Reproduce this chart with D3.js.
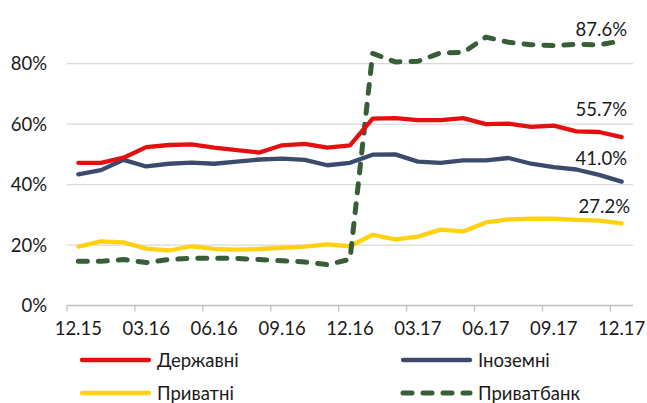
<!DOCTYPE html>
<html><head><meta charset="utf-8">
<script src="https://cdn.jsdelivr.net/npm/d3@7"></script>
<style>
body{margin:0;background:#fff;}
svg{display:block;font-family:Lato, "Open Sans", sans-serif;}
</style>
</head><body>
<svg id="c" width="647" height="403"></svg>
<script>
const months = ["12.15","01.16","02.16","03.16","04.16","05.16","06.16","07.16","08.16","09.16","10.16","11.16","12.16",
                "01.17","02.17","03.17","04.17","05.17","06.17","07.17","08.17","09.17","10.17","11.17","12.17"];
const tickLabels = ["12.15","03.16","06.16","09.16","12.16","03.17","06.17","09.17","12.17"];
const yTicks = [0, 20, 40, 60, 80];

const derzhavni  = [47.2,47.2,48.9,52.4,53.1,53.3,52.2,51.4,50.6,53.0,53.5,52.2,53.0,61.8,62.0,61.3,61.3,62.0,60.0,60.2,59.1,59.5,57.6,57.4,55.7];
const inozemni   = [43.4,44.8,48.2,46.0,46.9,47.3,46.9,47.6,48.3,48.6,48.2,46.4,47.2,49.9,50.0,47.6,47.2,48.0,48.0,48.8,46.9,45.8,45.0,43.2,41.0];
const pryvatni   = [19.5,21.2,20.9,18.8,18.2,19.6,18.7,18.5,18.7,19.1,19.5,20.2,19.6,23.4,21.9,22.8,25.1,24.5,27.5,28.5,28.7,28.7,28.3,28.1,27.2];
const pryvatbank = [14.6,14.6,15.2,14.2,15.2,15.6,15.6,15.6,15.2,14.8,14.4,13.5,15.3,83.4,80.6,80.8,83.6,83.7,88.8,87.1,86.3,86.0,86.4,86.2,87.6];

const seriesNames = ["Державні","Іноземні","Приватні","Приватбанк"];
const endLabels = ["55.7%","41.0%","27.2%","87.6%"];

const colors = ["#E3100F","#3C4A6E","#FFD10F","#385E37"];
const dashes = [null, null, null, "9,11"];
const labelLift = [28, 23, 17, 11];
const labelRight = [627, 627, 630, 627];

const svg = d3.select("#c");
const x = d3.scaleBand().domain(months).range([67, 633]).padding(0);
const y = d3.scaleLinear().domain([0, 100]).range([305.5, 3.25]);
const cx = m => x(m) + x.bandwidth() / 2;

// gridlines
svg.append("g").selectAll("line").data(yTicks.filter(d => d > 0)).join("line")
  .attr("x1", 67).attr("x2", 633)
  .attr("y1", d => y(d)).attr("y2", d => y(d))
  .attr("stroke", "#D9D9D9").attr("stroke-width", 1.3);

// y labels
svg.append("g").selectAll("text").data(yTicks).join("text")
  .attr("x", 47).attr("y", d => y(d) + 6.7)
  .attr("text-anchor", "end").attr("font-size", 18.5).attr("fill", "#1a1a1a")
  .text(d => d + "%");

// x axis line + ticks
const ax = svg.append("g");
ax.append("line").attr("x1", 67).attr("x2", 633).attr("y1", y(0)).attr("y2", y(0))
  .attr("stroke", "#BFBFBF").attr("stroke-width", 1.3);
ax.selectAll("line.t").data(months.filter((m, i) => i % 3 === 0)).join("line").attr("class", "t")
  .attr("x1", d => x(d)).attr("x2", d => x(d)).attr("y1", y(0)).attr("y2", y(0) + 6)
  .attr("stroke", "#BFBFBF").attr("stroke-width", 1.3);
ax.selectAll("text").data(tickLabels).join("text")
  .attr("x", d => cx(d)).attr("y", 335)
  .attr("text-anchor", "middle").attr("font-size", 18.5).attr("fill", "#1a1a1a")
  .text(d => d);

// series
const allSeries = [derzhavni, inozemni, pryvatni, pryvatbank];
const line = d3.line().x((d, i) => cx(months[i])).y(d => y(d));
const drawOrder = [2, 3, 1, 0];
drawOrder.forEach(k => {
  svg.append("path").datum(allSeries[k])
    .attr("d", line)
    .attr("fill", "none")
    .attr("stroke", colors[k])
    .attr("stroke-width", k === 3 ? 5 : 4.3)
    .attr("stroke-linejoin", "round")
    .attr("stroke-linecap", "round")
    .attr("stroke-dasharray", dashes[k]);
});

// end labels
allSeries.forEach((s, k) => {
  svg.append("text")
    .attr("x", labelRight[k])
    .attr("y", y(s[s.length - 1]) - labelLift[k] + 6.7)
    .attr("text-anchor", "end").attr("font-size", 18.5).attr("fill", "#1a1a1a")
    .text(endLabels[k]);
});

// legend
const legX = [82, 403, 82, 403];
const legY = [360, 360, 393, 393];
seriesNames.forEach((n, k) => {
  svg.append("line")
    .attr("x1", legX[k]).attr("x2", legX[k] + 67)
    .attr("y1", legY[k]).attr("y2", legY[k])
    .attr("stroke", colors[k]).attr("stroke-width", k === 3 ? 5 : 4.3)
    .attr("stroke-linecap", "round")
    .attr("stroke-dasharray", dashes[k]);
  svg.append("text")
    .attr("x", legX[k] + 75).attr("y", legY[k] + 6.7)
    .attr("font-size", 18.5).attr("fill", "#1a1a1a")
    .text(n);
});
</script>
</body></html>
